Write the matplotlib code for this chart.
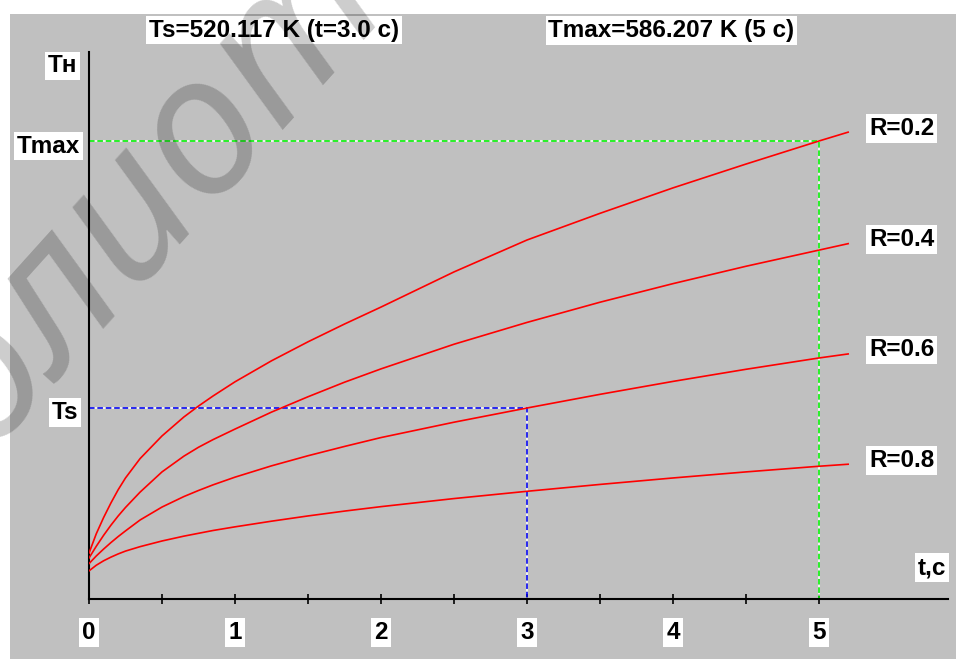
import matplotlib
matplotlib.use("Agg")
import matplotlib.pyplot as plt
from matplotlib.patches import Rectangle
from matplotlib.ticker import FixedLocator

# ---- data -------------------------------------------------------------
t = [0.0, 0.05, 0.1, 0.15, 0.2, 0.25, 0.35, 0.5, 0.65, 0.75, 0.85, 1.0,
     1.25, 1.5, 1.75, 2.0, 2.5, 3.0, 3.5, 4.0, 4.5, 5.0, 5.2]
r_values = [0.2, 0.4, 0.6, 0.8]
T_r02 = [484.2, 489.0, 493.0, 496.6, 499.9, 502.8, 507.6, 513.2, 517.9,
         520.6, 523.1, 526.6, 531.8, 536.5, 540.9, 545.1, 553.8, 561.7,
         568.3, 574.6, 580.5, 586.207, 588.4]
T_r04 = [483.0, 485.9, 488.6, 491.1, 493.4, 495.5, 499.3, 504.3, 508.2,
         510.4, 512.3, 514.9, 519.1, 522.9, 526.5, 529.8, 535.9, 541.3,
         546.3, 550.9, 555.2, 559.2, 560.8]
T_r06 = [481.6, 483.5, 485.2, 486.8, 488.3, 489.7, 492.4, 495.6, 498.2,
         499.7, 501.1, 503.0, 505.8, 508.3, 510.6, 512.8, 516.6, 520.117,
         523.5, 526.7, 529.7, 532.5, 533.5]
T_r08 = [479.8, 481.2, 482.3, 483.2, 484.0, 484.7, 485.8, 487.2, 488.4,
         489.1, 489.8, 490.7, 492.1, 493.4, 494.6, 495.7, 497.7, 499.5,
         501.2, 502.8, 504.3, 505.7, 506.2]
curves = [T_r02, T_r04, T_r06, T_r08]

t_s, T_s = 3.0, 520.117        # Ts reading point
t_max, T_max = 5.0, 586.207    # Tmax reading point

x_major = [0, 1, 2, 3, 4, 5]
x_minor = [0.5, 1.5, 2.5, 3.5, 4.5]
t_lim = (0.0, 5.884)
T_lim = (472.84, 608.24)

# ---- figure -----------------------------------------------------------
W, H, DPI = 956, 659, 100
FS = 17.5
FONT = "Liberation Sans"
PT = 0.72  # points per pixel at 100 dpi
box = dict(boxstyle="square,pad=0.12", facecolor="white", edgecolor="none")
txt = dict(fontsize=FS, fontweight="bold", family=FONT, color="black")

fig = plt.figure(figsize=(W / DPI, H / DPI), dpi=DPI, facecolor="white")


def fpos(x, y):
    return x / W, 1 - y / H


fig.add_artist(Rectangle((10 / W, 0), 1 - 10 / W, 1 - 14 / H,
                         transform=fig.transFigure, facecolor="#c0c0c0",
                         edgecolor="none", zorder=0))

ax = fig.add_axes([89 / W, 1 - 599 / H, (948 - 89) / W, (599 - 52) / H])
ax.set_facecolor("none")
ax.set_xlim(*t_lim)
ax.set_ylim(*T_lim)
for s in ("top", "right"):
    ax.spines[s].set_visible(False)
for s in ("left", "bottom"):
    ax.spines[s].set_linewidth(1.5)
    ax.spines[s].set_color("black")
ax.set_yticks([])

ax.xaxis.set_major_locator(FixedLocator(x_major))
ax.xaxis.set_minor_locator(FixedLocator(x_minor))
ax.set_xticks(x_major, labels=[str(v) for v in x_major], bbox=box,
              fontsize=FS, fontweight="bold", family=FONT)
ax.tick_params(axis="x", which="both", direction="inout", length=7.2,
               width=1.2, color="black")
ax.tick_params(axis="x", which="major", pad=12)

# reference lines
ax.plot([0, t_max, t_max], [T_max, T_max, T_lim[0]], color="#00ff00",
        lw=1.1, dashes=(3.6, 1.9), gapcolor="white", zorder=2,
        clip_on=False)
ax.plot([0, t_s, t_s], [T_s, T_s, T_lim[0]], color="#0000ff",
        lw=1.1, dashes=(3.6, 1.9), gapcolor="white", zorder=2,
        clip_on=False)

# heating curves
for r, T in zip(r_values, curves):
    ax.plot(t, T, color="#ff0000", lw=1.2, zorder=3)
    ax.annotate(f"R={r}", xy=(t[-1], T[-1]), xytext=(21 * PT, 4 * PT),
                textcoords="offset points", ha="left", va="center",
                bbox=box, **txt)

# axis captions
ax.annotate("Tн", xy=(0, T_lim[1]), xytext=(-12 * PT, -14 * PT),
            textcoords="offset points", ha="right", va="center",
            bbox=box, **txt)
ax.annotate("Tmax", xy=(0, T_max), xytext=(-9 * PT, -5 * PT),
            textcoords="offset points", ha="right", va="center",
            bbox=box, **txt)
ax.annotate("Ts", xy=(0, T_s), xytext=(-11 * PT, -4.5 * PT),
            textcoords="offset points", ha="right", va="center",
            bbox=box, **txt)
ax.annotate("t,с", xy=(t_lim[1], T_lim[0]), xytext=(-2 * PT, 31.5 * PT),
            textcoords="offset points", ha="right", va="center",
            bbox=box, **txt)

fig.text(*fpos(274, 30), f"Ts={T_s:.3f} K (t={t_s:.1f} с)",
         ha="center", va="center", bbox=box, **txt)
fig.text(*fpos(671.5, 30.5), f"Tmax={T_max:.3f} K ({t_max:.0f} с)",
         ha="center", va="center", bbox=box, **txt)

# watermark
fig.text(*fpos(178, 160), "библиотека", rotation=48, rotation_mode="anchor",
         ha="center", va="center", fontsize=140, style="italic",
         family="Noto Sans", color="black", alpha=0.2, zorder=10)

fig.savefig("out.png", dpi=DPI, facecolor="white")
